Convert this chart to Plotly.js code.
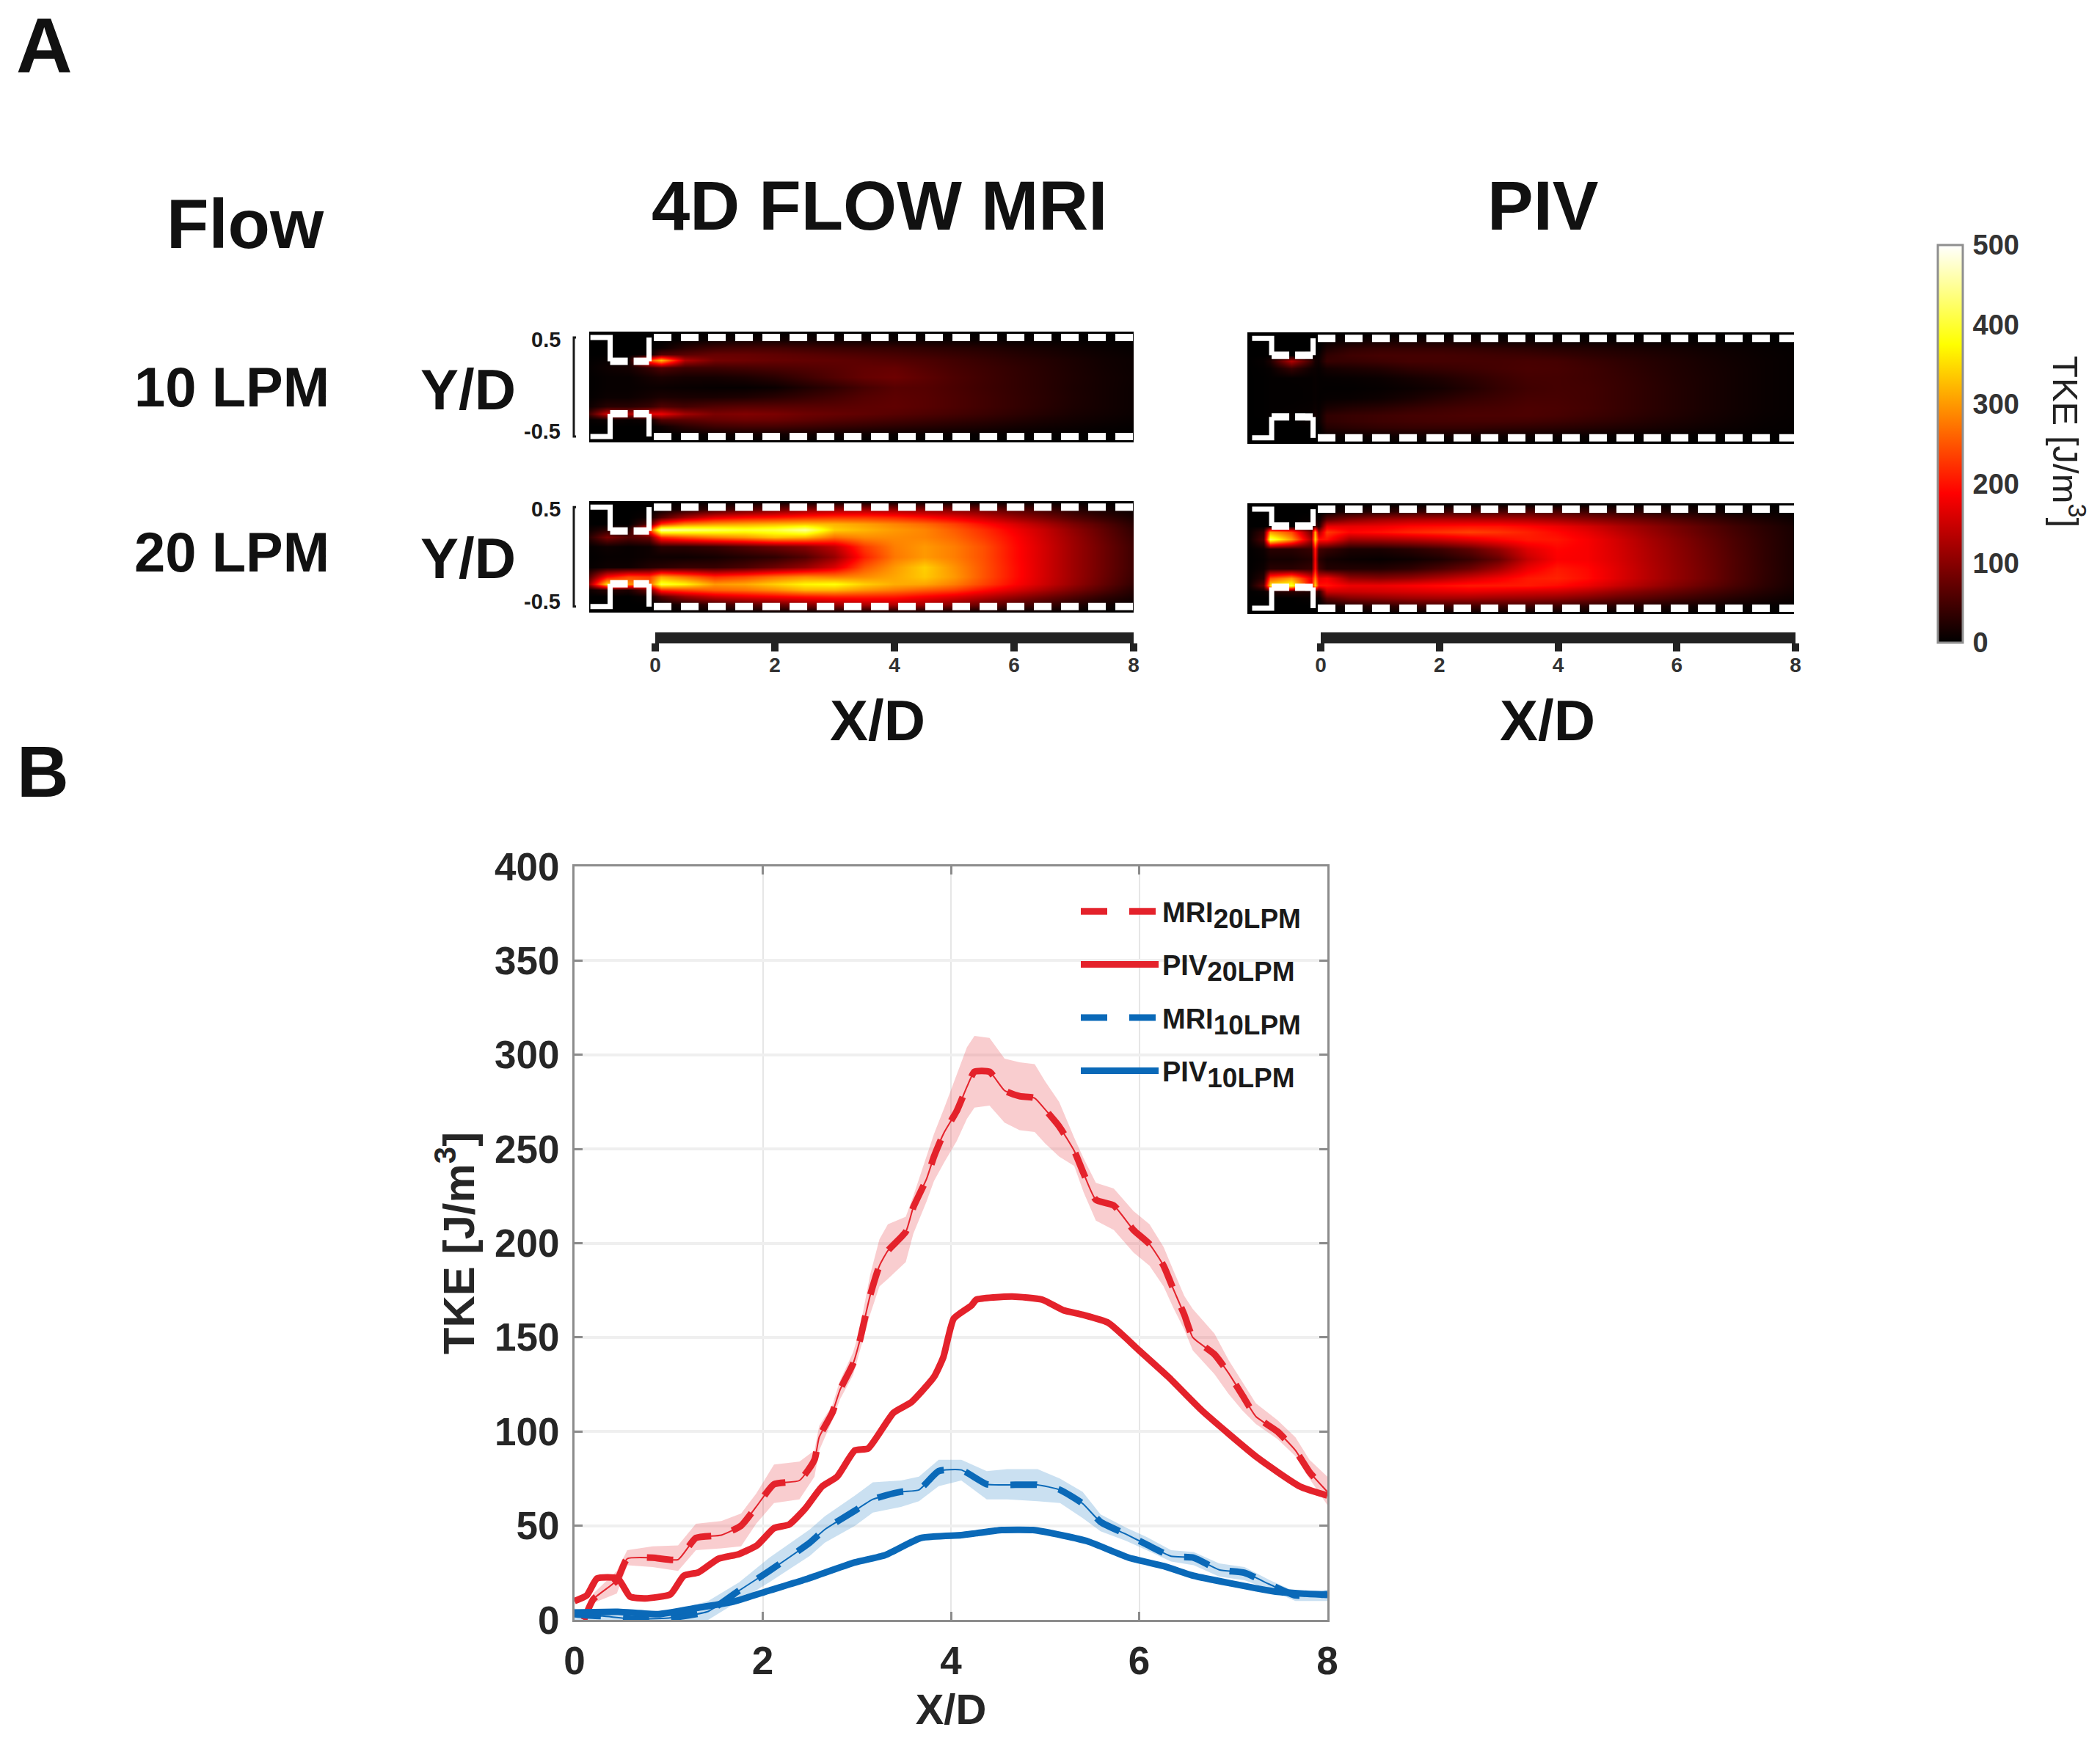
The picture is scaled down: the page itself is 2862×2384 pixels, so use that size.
<!DOCTYPE html>
<html>
<head>
<meta charset="utf-8">
<script src="https://cdn.plot.ly/plotly-3.0.1.min.js"></script>
<style>
    html, body { margin: 0; padding: 0; background: #fff; }
</style>
</head>
<body>
<div id="chart" style="width:2862px;height:2384px"></div>
<script>
// Panel B curves
const mri20X = [0.1,0.2,0.45,0.56,0.83,1.1,1.29,1.56,1.77,1.93,2.12,2.39,2.55,2.6,2.74,2.82,2.96,3.03,3.14,3.24,3.33,3.52,3.6,3.74,3.82,3.93,4.06,4.17,4.25,4.41,4.57,4.73,4.89,5.0,5.15,5.31,5.41,5.54,5.73,5.94,6.11,6.26,6.36,6.48,6.57,6.8,6.95,7.1,7.24,7.47,7.66,7.81,8];
const mri20Mean = [0,11,21,32.5,33,32,43.5,45,50,60,72,74,85,97,110,122,136,148,172,188,196,206,219,234,246,259,270,283,291,291,281,278,277,271,262,249,237,223,220,207,199.5,188,176,162,150,141,131,119,108,100,90,78.5,68];
const mri20Upper = [0,14,26,37,39,39.5,51,52.5,56.5,67,82.5,84,90,103,114,127,142,154,183,202,210,214,225,246,258,272,289,304,310,309,298,296,295,286,275,256,245,232,229,217,210,198,186,172,165,152,138,126,115,106,97,85,76];
const mri20Lower = [0,9,14,29,28,26,37,38,39,51,62,64,76,90,106,117,130,142,162,177,181,190,205,222,233,243,254,266,272,273,264,260,259,253,246,241,227,212,207,195,188,177,166,154,143,130.5,120,111,104,96,87,75,61];

const piv20X = [0,0.13,0.24,0.46,0.59,0.75,1.02,1.16,1.32,1.53,1.75,1.94,2.12,2.28,2.45,2.63,2.79,2.98,3.12,3.39,3.58,3.82,3.92,4.03,4.22,4.27,4.65,4.97,5.19,5.4,5.67,5.99,6.31,6.67,7.26,7.71,8];
const piv20Mean = [10,13,22,22,12.3,11.4,13.6,23.4,25.3,32.5,35,39.6,48.7,50.6,59,70.8,76,90,91,110,115.6,129,139.6,160,167,170,171.7,170,164.5,162,157.8,143.5,129,111,86,70.8,66];

const mri10X = [0,0.1,0.3,0.62,1.0,1.42,1.75,2.07,2.5,2.66,2.98,3.17,3.47,3.66,3.87,4.11,4.38,4.6,4.92,5.16,5.4,5.59,5.86,6.08,6.34,6.58,6.85,7.12,7.39,7.66,8];
const mri10Mean = [3,2.5,2,0.5,1,4.5,15.6,26,41,48,58,64,68,69,79,79.6,72,71.7,71.7,69,61.7,52,45.5,40,33.8,33,26.6,25,18.8,13,13.6];
const mri10Upper = [6,5,4,2,4,10,20,33,48,55,66,73,74,76,85,85,79,80,80,75,68,56,49,44,37,36,30,28,21,15,16];
const mri10Lower = [0,0,0,0,0,0,10,20,34,41,50,57,60,63,71,74,64,64,63,62,54,47,42,37,31,29,23,21,16,10,10];

const piv10X = [0,0.46,0.89,1.32,1.69,2.07,2.45,2.98,3.3,3.68,4.11,4.27,4.54,4.87,5.19,5.46,5.89,6.26,6.58,6.96,7.45,8];
const piv10Mean = [3.9,4.3,3,6.5,9.7,15.6,21.4,30.5,34.4,43.5,45,46,47.7,47.7,44.8,41.6,33,28.6,23.4,19.5,15,13.2];

const lineXTicks = [0,2,4,6,8];
const lineYTicks = [0,50,100,150,200,250,300,350,400];

// Panel A maps: TKE, rows from top to bottom
const mriMapX = [-1.24,-0.8,-0.45,-0.1,0.1,0.5,1,1.5,2,2.5,3,3.5,4,4.5,5,5.5,6,6.5,7,7.5,8];
const pivMapX = [-1.24,-0.97,-0.85,-0.5,-0.16,-0.1,-0.04,0.1,0.5,1,1.5,2,2.5,3,3.5,4,4.5,5,5.5,6,6.5,7,7.5,8];
const mapY = [0.56,0.48,0.4,0.33,0.27,0.2,0.1,0,-0.1,-0.2,-0.27,-0.33,-0.4,-0.48,-0.56];
const mriZeroRow = [0,0,0,0,0,0,0,0,0,0,0,0,0,0,0,0,0,0,0,0,0];
const pivZeroRow = [0,0,0,0,0,0,0,0,0,0,0,0,0,0,0,0,0,0,0,0,0,0,0,0];

const mri10Map = [
    mriZeroRow,
    [0,0,0,0,0,3,8,12,12,12,10,10,8,8,7,6,5,4,3,2,1],
    [0,0,0,0,8,30,45,50,50,45,42,40,38,34,30,26,20,16,11,7,4],
    [0,0,0,5,60,65,75,75,70,65,60,56,52,46,40,34,27,21,15,10,6],
    [0,5,5,240,330,130,85,80,75,72,70,66,62,56,48,40,32,26,19,12,8],
    [0,10,15,40,60,45,45,50,55,60,65,72,74,62,52,44,36,28,20,13,8],
    [0,5,5,15,20,15,15,20,30,45,60,74,80,68,56,46,37,29,21,14,9],
    [0,5,5,8,8,6,4,4,8,22,35,52,64,62,54,45,37,29,20,14,8],
    [0,8,8,15,20,18,18,22,30,40,50,62,68,64,56,47,38,30,21,14,8],
    [0,30,30,40,60,50,60,65,65,65,65,68,70,64,56,47,38,29,20,14,8],
    [0,150,130,170,175,120,90,95,90,80,75,70,64,57,50,42,33,25,17,12,7],
    [0,10,5,10,60,65,75,80,78,70,62,56,50,44,38,32,25,18,13,9,5],
    [0,0,0,0,10,30,45,50,50,45,40,36,32,28,24,20,15,11,8,5,3],
    [0,0,0,0,0,3,8,12,12,12,10,8,6,6,5,4,3,2,2,1,1],
    mriZeroRow
];
const mri20Map = [
    mriZeroRow,
    [0,0,0,0,5,20,40,60,80,100,110,115,110,100,90,80,62,45,28,15,6],
    [0,0,0,10,60,120,170,190,200,215,225,225,215,195,172,145,115,88,60,38,18],
    [0,0,0,60,220,280,300,310,320,330,320,305,285,265,235,195,160,125,90,60,28],
    [0,30,20,230,460,440,420,400,410,450,340,320,300,285,255,220,180,145,105,70,35],
    [0,90,60,80,220,250,280,300,330,320,270,290,290,285,265,230,190,150,112,75,40],
    [0,10,5,10,30,30,40,60,80,100,140,230,280,300,280,245,195,155,115,80,45],
    [0,5,5,10,10,10,15,25,35,60,110,210,275,300,280,245,195,155,115,80,45],
    [0,10,10,25,30,40,40,55,80,110,160,250,300,340,295,248,198,155,115,80,45],
    [0,190,240,230,310,270,220,240,270,290,280,290,310,335,300,248,198,155,115,78,42],
    [0,350,300,260,400,370,300,310,340,370,380,340,315,310,280,235,190,150,110,72,36],
    [0,30,20,80,220,240,260,270,290,320,320,295,275,255,235,195,160,125,90,58,26],
    [0,0,0,10,60,110,150,170,185,200,210,210,205,185,165,138,112,85,60,36,18],
    [0,0,0,0,5,20,40,60,75,95,110,125,130,118,98,76,58,42,26,13,6],
    mriZeroRow
];
const piv10Map = [
    pivZeroRow,
    [0,0,0,0,0,0,0,5,10,15,15,15,12,10,10,8,7,6,5,4,3,2,1,1],
    [0,0,0,0,0,0,0,20,35,40,40,40,38,35,32,28,26,22,18,15,11,8,5,3],
    [0,0,0,0,5,5,5,35,45,50,50,50,48,46,44,40,34,29,24,19,14,10,6,4],
    [0,5,20,130,40,15,10,40,40,45,50,50,50,50,52,50,42,35,28,22,16,11,7,4],
    [0,2,5,40,10,8,5,15,20,25,35,40,45,50,54,52,46,38,30,23,17,12,7,4],
    [0,1,2,3,3,5,3,4,5,8,15,22,32,42,50,50,46,40,32,24,18,12,7,4],
    [0,1,2,2,3,5,3,2,2,4,8,14,25,38,47,50,48,41,33,25,18,12,7,4],
    [0,1,2,2,3,5,3,5,6,10,18,28,38,45,52,52,48,41,33,25,18,12,7,4],
    [0,1,2,3,5,8,5,18,25,30,38,45,50,52,56,54,49,41,33,25,18,12,7,4],
    [0,1,3,5,5,15,5,35,40,45,50,52,55,55,56,52,45,38,30,23,16,11,6,4],
    [0,0,0,0,5,5,5,35,40,45,48,50,50,50,48,44,38,32,25,19,14,9,5,3],
    [0,0,0,0,0,0,0,25,30,35,38,38,38,35,33,30,26,22,18,14,10,7,4,3],
    [0,0,0,0,0,0,0,5,8,10,12,12,12,10,9,8,6,5,4,3,2,2,1,1],
    pivZeroRow
];
const piv20Map = [
    pivZeroRow,
    [0,0,0,0,0,0,0,5,20,30,40,45,50,55,58,55,46,38,30,22,16,10,6,3],
    [0,0,0,0,5,20,5,70,100,120,130,135,135,135,130,120,105,92,78,62,46,32,20,10],
    [0,0,0,0,20,60,20,170,170,175,190,195,200,200,190,175,155,130,108,86,66,46,30,16],
    [0,40,300,240,80,320,120,230,190,200,215,225,235,225,210,192,170,142,116,92,70,50,32,18],
    [0,60,420,300,120,340,200,200,120,125,135,150,170,190,205,202,182,155,125,100,76,54,34,18],
    [0,10,30,30,40,210,50,40,20,20,30,45,70,110,165,190,182,158,130,104,80,56,35,18],
    [0,5,15,15,25,190,30,15,8,5,10,20,40,75,145,185,182,160,132,106,82,58,35,18],
    [0,10,30,30,40,200,50,25,25,25,35,55,80,120,175,205,192,165,135,108,84,58,36,18],
    [0,30,250,300,170,280,170,180,110,100,110,130,155,180,205,212,195,165,135,108,84,58,35,18],
    [0,70,360,400,180,340,200,200,175,175,185,195,205,205,205,195,175,148,122,96,74,52,32,16],
    [0,5,20,30,20,60,30,150,150,155,160,165,170,165,158,152,135,112,92,74,56,40,25,13],
    [0,0,0,0,5,10,5,70,95,105,115,120,120,115,112,105,92,76,64,50,38,26,16,8],
    [0,0,0,0,0,0,0,5,20,30,40,42,45,45,44,40,32,27,22,15,11,7,4,2],
    pivZeroRow
];

// Wall outline of the channel in X/D, Y/D
const mriWallX = { start: -1.08, stepIn: -0.75, stepOut: -0.1, channel: -0.02 };
const pivWallX = { start: -1.16, stepIn: -0.83, stepOut: -0.13, channel: -0.05 };
const mriThroat = { top: 0.26, bottom: -0.27 };
const pivThroat = { top: 0.33, bottom: -0.29 };
const wallY = 0.5;

const barTicks = [0,2,4,6,8];
const colorTicks = [0,100,200,300,400,500];
const hotScale = [[0,'#000000'],[0.375,'#ff0000'],[0.75,'#ffff00'],[1,'#ffffff']];

const RED = '#e4222b';
const BLUE = '#0a69b8';
const RED_BAND = 'rgba(236,90,95,0.3)';
const BLUE_BAND = 'rgba(60,140,205,0.27)';
const FONT = 'Liberation Sans, Arial, sans-serif';
const TEXT = '#1a1a1a';
const W = 2862;
const H = 2384;

function xDomain(left, right) { return [left / W, right / W]; }
function yDomain(top, bottom) { return [1 - bottom / H, 1 - top / H]; }

const traces = [];
const shapes = [];
const annotations = [];
const layout = {
    width: W,
    height: H,
    margin: { l: 0, r: 0, t: 0, b: 0 },
    paper_bgcolor: '#fff',
    plot_bgcolor: 'rgba(0,0,0,0)',
    font: { family: FONT, color: TEXT },
    showlegend: true,
    coloraxis: {
        cmin: 0,
        cmax: 500,
        colorscale: hotScale,
        colorbar: {
            x: 2641 / W, xanchor: 'left',
            y: 1 - 605 / H, yanchor: 'middle',
            lenmode: 'pixels', len: 542,
            thicknessmode: 'pixels', thickness: 34,
            xpad: 0, ypad: 0,
            outlinecolor: '#8f8f8f', outlinewidth: 3,
            tickvals: colorTicks,
            ticks: 'outside', ticklen: 5, tickcolor: 'rgba(0,0,0,0)', tickwidth: 2,
            tickfont: { family: FONT, size: 38, color: '#333', weight: 'bold' }
        }
    },
    legend: {
        x: 1468 / W, xanchor: 'left',
        y: 1 - 1211 / H, yanchor: 'top',
        bgcolor: 'rgba(0,0,0,0)',
        borderwidth: 0,
        itemwidth: 106,
        tracegroupgap: 20,
        font: { family: FONT, size: 38, color: TEXT, weight: 'bold' }
    },
    shapes: shapes,
    annotations: annotations
};

// One heat map panel with its wall outline
function addMapPanel(n, z, mapX, box, wallX, throat, showY) {
    const xName = 'x' + n;
    const yName = 'y' + n;
    layout['xaxis' + n] = {
        domain: xDomain(box.left, box.right),
        range: [box.xMin, 8],
        anchor: yName,
        visible: false
    };
    layout['yaxis' + n] = {
        domain: yDomain(box.top, box.bottom),
        range: [-0.56, 0.56],
        anchor: xName,
        visible: false
    };
    traces.push({
        type: 'heatmap', x: mapX, y: mapY, z: z, coloraxis: 'coloraxis',
        zsmooth: 'best', xaxis: xName, yaxis: yName, showlegend: false, hoverinfo: 'skip'
    });
    traces.push({
        type: 'scatter', mode: 'lines', xaxis: xName, yaxis: yName, showlegend: false, hoverinfo: 'skip',
        x: [wallX.start, wallX.stepIn, wallX.stepIn, null, wallX.stepOut, wallX.stepOut, null,
            wallX.start, wallX.stepIn, wallX.stepIn, null, wallX.stepOut, wallX.stepOut],
        y: [wallY, wallY, throat.top, null, wallY, throat.top, null,
            -wallY, -wallY, throat.bottom, null, -wallY, throat.bottom],
        line: { color: '#fff', width: 7 }
    });
    [wallY, -wallY].forEach(level => {
        traces.push({
            type: 'scatter', mode: 'lines', xaxis: xName, yaxis: yName, showlegend: false, hoverinfo: 'skip',
            x: [wallX.channel, 8], y: [level, level],
            line: { color: '#fff', width: 10, dash: '24px,13px' }
        });
    });
    [throat.top, throat.bottom].forEach(level => {
        traces.push({
            type: 'scatter', mode: 'lines', xaxis: xName, yaxis: yName, showlegend: false, hoverinfo: 'skip',
            x: [wallX.stepIn, wallX.stepOut], y: [level, level],
            line: { color: '#fff', width: 10, dash: '24px,8px' }
        });
    });
    if (showY) {
        // bracket and labels of the two Y/D ticks
        shapes.push({
            type: 'path', xref: 'paper', yref: yName,
            path: 'M ' + 785 / W + ' 0.5 L ' + 782 / W + ' 0.5 L ' + 782 / W + ' -0.5 L ' + 785 / W + ' -0.5',
            line: { color: TEXT, width: 3 }
        });
        [['0.5', 0.5, -3], ['-0.5', -0.5, 7]].forEach(([label, level, shift]) => {
            annotations.push({
                text: label, xref: 'paper', yref: yName, x: 766 / W, y: level, yshift: shift,
                xanchor: 'right', yanchor: 'middle', showarrow: false,
                font: { family: FONT, size: 29, color: TEXT, weight: 'bold' }
            });
        });
    }
}

addMapPanel(2, mri10Map, mriMapX, { left: 803, right: 1545, top: 452, bottom: 603, xMin: -1.1 }, mriWallX, mriThroat, true);
addMapPanel(3, mri20Map, mriMapX, { left: 803, right: 1545, top: 683, bottom: 835, xMin: -1.1 }, mriWallX, mriThroat, true);
addMapPanel(4, piv10Map, pivMapX, { left: 1700, right: 2445, top: 453, bottom: 605, xMin: -1.24 }, pivWallX, pivThroat, false);
addMapPanel(5, piv20Map, pivMapX, { left: 1700, right: 2445, top: 686, bottom: 837, xMin: -1.24 }, pivWallX, pivThroat, false);

// The heavy scale bar under each map column
function addBar(n, left, right) {
    const xName = 'x' + n;
    const yName = 'y' + n;
    layout['xaxis' + n] = {
        domain: xDomain(left, right),
        range: [0, 8],
        anchor: yName,
        side: 'bottom',
        showline: true, linecolor: '#222', linewidth: 15,
        showgrid: false, zeroline: false,
        tickvals: barTicks,
        ticks: 'outside', ticklen: 11, tickwidth: 10, tickcolor: '#222',
        ticklabelstandoff: -6,
        tickfont: { family: FONT, size: 28, color: '#333', weight: 'bold' }
    };
    layout['yaxis' + n] = {
        domain: yDomain(860, 862),
        range: [0, 1],
        anchor: xName,
        visible: false
    };
    traces.push({
        type: 'scatter', mode: 'lines', x: barTicks, y: barTicks.map(() => null),
        xaxis: xName, yaxis: yName, showlegend: false, hoverinfo: 'skip'
    });
}
addBar(6, 893, 1545);
addBar(7, 1800, 2447);

// Panel B
const lineAxis = {
    showline: true, linecolor: '#8c8c8c', linewidth: 3, mirror: 'ticks',
    ticks: 'inside', ticklen: 11, tickwidth: 3, tickcolor: '#8c8c8c',
    showgrid: true, zeroline: false,
    ticklabelstandoff: 7,
    tickfont: { family: FONT, size: 53, color: '#262626', weight: 'bold' }
};
layout.xaxis = Object.assign({}, lineAxis, {
    domain: xDomain(783, 1809),
    range: [0, 8],
    anchor: 'y',
    tickvals: lineXTicks,
    gridcolor: '#e6e6e6', gridwidth: 2,
    title: { text: 'X/D', standoff: 18, font: { family: FONT, size: 58, color: '#262626', weight: 'bold' } }
});
layout.yaxis = Object.assign({}, lineAxis, {
    domain: yDomain(1181, 2208),
    range: [0, 400],
    anchor: 'x',
    tickvals: lineYTicks,
    gridcolor: '#efefef', gridwidth: 4,
    title: { text: 'TKE [J/m<sup>3</sup>]', standoff: 8, font: { family: FONT, size: 60, color: '#262626', weight: 'bold' } }
});

function addBand(x, upper, lower, color) {
    traces.push({
        type: 'scatter', mode: 'lines', fill: 'toself', fillcolor: color,
        x: x.concat(x.slice().reverse()),
        y: upper.concat(lower.slice().reverse()),
        line: { width: 0 }, showlegend: false, hoverinfo: 'skip'
    });
}
function addThinLine(x, y, color) {
    traces.push({
        type: 'scatter', mode: 'lines', x: x, y: y, showlegend: false, hoverinfo: 'skip',
        line: { color: color, width: 2, shape: 'spline', smoothing: 0.5 }
    });
}
function addCurve(x, y, color, dash, label) {
    traces.push({
        type: 'scatter', mode: 'lines', x: x, y: y, name: label, legendgroup: label,
        line: { color: color, width: 9, dash: dash, shape: 'spline', smoothing: 0.5 }
    });
}
function sublabel(main, sub) {
    return main + '<sub><span style="font-size:37px">' + sub + '</span></sub>';
}

addBand(mri10X, mri10Upper, mri10Lower, BLUE_BAND);
addBand(mri20X, mri20Upper, mri20Lower, RED_BAND);
addThinLine(mri10X, mri10Mean, BLUE);
addThinLine(mri20X, mri20Mean, RED);
addCurve(mri20X, mri20Mean, RED, '36px,30px', sublabel('MRI', '20LPM'));
addCurve(piv20X, piv20Mean, RED, 'solid', sublabel('PIV', '20LPM'));
addCurve(mri10X, mri10Mean, BLUE, '36px,30px', sublabel('MRI', '10LPM'));
addCurve(piv10X, piv10Mean, BLUE, 'solid', sublabel('PIV', '10LPM'));

// Free text of the figure
function addText(text, x, y, size) {
    annotations.push({
        text: text, xref: 'paper', yref: 'paper', x: x / W, y: 1 - y / H,
        xanchor: 'center', yanchor: 'middle', showarrow: false,
        font: { family: FONT, size: size, color: '#111', weight: 'bold' }
    });
}
addText('A', 60, 62, 106);
addText('B', 58, 1052, 98);
addText('Flow', 334, 305, 94);
addText('4D FLOW MRI', 1198, 281, 94);
addText('PIV', 2103, 281, 94);
addText('10 LPM', 316, 527, 76);
addText('20 LPM', 316, 752, 76);
addText('Y/D', 638, 531, 78);
addText('Y/D', 638, 761, 78);
addText('X/D', 1196, 982, 78);
addText('X/D', 2109, 982, 78);
annotations.push({
    text: 'TKE [J/m<sup>3</sup>]', xref: 'paper', yref: 'paper', x: 2819 / W, y: 1 - 602 / H,
    xanchor: 'center', yanchor: 'middle', showarrow: false, textangle: 90,
    font: { family: FONT, size: 49, color: '#222' }
});

Plotly.newPlot('chart', traces, layout, { displayModeBar: false });
</script>
</body>
</html>
